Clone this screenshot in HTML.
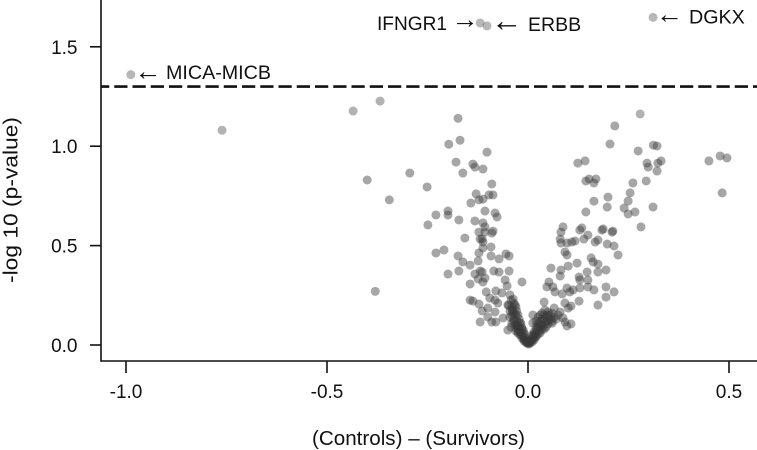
<!DOCTYPE html>
<html lang="en">
<head>
<meta charset="utf-8">
<title>Volcano plot</title>
<style>
html,body{margin:0;padding:0;background:#fff;width:757px;height:450px;overflow:hidden}
svg{display:block;font-family:"Liberation Sans",Arial,sans-serif;fill:#111}
text{font-size:19px}
</style>
</head>
<body>
<svg id="chart" width="757" height="450" viewBox="0 0 757 450" xmlns="http://www.w3.org/2000/svg">
  <g id="points"></g>
  <g id="axes"></g>
  <g id="annotations">
    <text x="134.5" y="80" style="font-size:27px">←</text>
    <text x="166" y="79" style="font-size:19.7px">MICA-MICB</text>
    <text x="377" y="30" style="font-size:19.5px" textLength="70" lengthAdjust="spacingAndGlyphs">IFNGR1</text>
    <text x="451.5" y="28" style="font-size:27px">→</text>
    <text x="491" y="31" style="font-size:31.5px">←</text>
    <text x="528" y="31" style="font-size:19.5px">ERBB</text>
    <text x="656" y="23" style="font-size:27px">←</text>
    <text x="689" y="23.5" style="font-size:19.7px">DGKX</text>
  </g>
  <text x="312" y="445" style="font-size:20px" textLength="213" lengthAdjust="spacingAndGlyphs">(Controls) – (Survivors)</text>
  <text transform="translate(17.5,283) rotate(-90)" style="font-size:20px" textLength="166" lengthAdjust="spacingAndGlyphs">-log 10 (p-value)</text>
</svg>
<script>
const xTicks = [-1.0, -0.5, 0.0, 0.5];
const xTickLabels = ["-1.0", "-0.5", "0.0", "0.5"];
const yTicks = [0.0, 0.5, 1.0, 1.5];
const yTickLabels = ["0.0", "0.5", "1.0", "1.5"];
const threshold = 1.3;

const labelledX = [-0.988, -0.119, -0.102, 0.311];
const labelledY = [1.36, 1.62, 1.605, 1.648];

const faintX = [-0.761, -0.435, -0.368, 0.279];
const faintY = [1.08, 1.177, 1.227, 1.162];

const geneX = [
  -0.4,-0.38,-0.345,0.45,0.478,0.495,0.483,
  -0.174,-0.169,-0.197,-0.102,-0.179,-0.137,-0.132,-0.112,-0.162,-0.294,-0.251,-0.09,-0.129,-0.087,-0.097,-0.112,-0.122,-0.142,-0.107,-0.082,-0.077,-0.199,-0.199,-0.229,-0.172,-0.132,-0.112,-0.249,-0.107,-0.122,-0.107,-0.087,-0.09,-0.157,-0.114,
  -0.119,-0.112,-0.112,-0.092,-0.229,-0.209,-0.122,-0.174,-0.162,-0.144,-0.124,-0.092,-0.072,-0.055,-0.047,-0.199,-0.172,-0.132,-0.119,-0.114,-0.124,-0.107,-0.112,-0.085,-0.072,-0.047,-0.057,-0.144,-0.015,-0.052,-0.104,-0.08,-0.065,-0.095,-0.144,-0.137,-0.122,-0.082,-0.075,-0.045,-0.037,-0.05,-0.032,-0.1,-0.114,-0.082,-0.1,-0.119,-0.09,-0.08,-0.062,-0.05,
  -0.04,-0.035,-0.03,-0.035,-0.028,-0.03,-0.025,-0.022,-0.02,-0.018,-0.015,-0.012,-0.01,-0.008,-0.005,-0.003,0,-0.045,-0.04,-0.042,-0.02,-0.015,-0.01,-0.025,-0.03,
  -0.042,-0.048,-0.035,-0.04,-0.03,-0.045,-0.038,-0.028,-0.04,-0.025,-0.036,-0.022,-0.032,-0.018,-0.025,-0.03,-0.016,-0.024,-0.012,-0.02,-0.01,-0.015,-0.006,-0.01,-0.004,
  0.082,0.08,0.082,0.097,0.117,0.109,0.139,0.149,0.129,0.167,0.174,0.184,0.209,0.197,0.214,0.224,0.092,0.097,0.122,0.1,0.057,0.157,0.162,0.174,0.174,0.194,0.147,0.08,0.082,0.127,0.149,0.129,0.052,0.047,0.062,0.067,0.085,0.097,0.104,0.112,0.129,0.149,0.164,0.194,0.214,0.194,0.174,0.127,0.092,0.04,0.107,0.1,0.065,0.08,0.087,0.092,0.097,0.107,0.012,0.012,0.042,0.05,
  0.02,0.025,0.03,0.035,0.03,0.035,0.04,0.045,0.05,0.055,0.06,0.02,0.025,0.03,0.03,0.02,0.015,0.015,0.01,0.008,0.005,0.025,0.04,0.045,0.02,0.003,-0.002,0.01,
  0.06,0.05,0.065,0.04,0.055,0.045,0.06,0.035,0.05,0.03,0.04,0.025,0.035,0.02,0.03,0.015,0.025,0.012,0.02,0.008,0.015,0.005,0.01,0.002,0.07,0.075,
  0.321,0.312,0.204,0.216,0.274,0.296,0.299,0.331,0.323,0.321,0.294,0.261,0.254,0.249,0.239,0.249,0.266,0.311,0.281,0.124,0.142,0.144,0.152,0.169,0.164,0.164,0.199,0.197,0.144,0.087,0.134,0.187,0.211
];
const geneY = [
  0.83,0.27,0.73,0.926,0.951,0.941,0.765,
  1.14,1.03,1.01,0.97,0.92,0.91,0.895,0.885,0.865,0.865,0.795,0.81,0.76,0.755,0.755,0.734,0.73,0.714,0.674,0.664,0.644,0.674,0.654,0.654,0.629,0.624,0.614,0.604,0.594,0.568,0.568,0.573,0.563,0.538,0.533,
  0.533,0.518,0.488,0.493,0.463,0.478,0.463,0.448,0.418,0.402,0.423,0.448,0.433,0.458,0.448,0.357,0.372,0.357,0.372,0.367,0.332,0.337,0.317,0.372,0.367,0.372,0.327,0.307,0.317,0.297,0.267,0.272,0.262,0.236,0.226,0.221,0.206,0.226,0.211,0.252,0.231,0.201,0.201,0.186,0.171,0.166,0.141,0.116,0.116,0.116,0.136,0.075,
  0.18,0.16,0.15,0.13,0.12,0.10,0.09,0.085,0.07,0.06,0.05,0.04,0.03,0.025,0.015,0.01,0.01,0.14,0.11,0.09,0.11,0.08,0.06,0.06,0.07,
  0.225,0.2,0.21,0.19,0.19,0.17,0.17,0.17,0.15,0.15,0.12,0.13,0.1,0.11,0.1,0.085,0.09,0.07,0.075,0.05,0.055,0.035,0.035,0.02,0.02,
  0.568,0.533,0.513,0.513,0.523,0.518,0.533,0.553,0.578,0.518,0.528,0.578,0.568,0.508,0.498,0.453,0.468,0.453,0.412,0.397,0.387,0.438,0.418,0.407,0.367,0.377,0.367,0.347,0.377,0.342,0.327,0.327,0.317,0.292,0.292,0.267,0.257,0.287,0.267,0.277,0.287,0.292,0.277,0.292,0.267,0.241,0.201,0.221,0.211,0.216,0.196,0.186,0.186,0.166,0.136,0.116,0.096,0.106,0.151,0.111,0.176,0.166,
  0.12,0.14,0.15,0.16,0.12,0.10,0.13,0.14,0.12,0.13,0.11,0.09,0.08,0.09,0.06,0.06,0.05,0.035,0.03,0.02,0.012,0.11,0.08,0.09,0.04,0.008,0.02,0.05,
  0.16,0.15,0.14,0.15,0.15,0.12,0.12,0.13,0.105,0.105,0.1,0.095,0.08,0.075,0.07,0.065,0.055,0.045,0.045,0.03,0.025,0.025,0.015,0.005,0.13,0.15,
  1.001,1.005,1.011,1.102,0.976,0.915,0.895,0.926,0.915,0.875,0.825,0.815,0.765,0.724,0.689,0.659,0.669,0.694,0.594,0.915,0.926,0.825,0.835,0.835,0.815,0.724,0.744,0.694,0.669,0.594,0.589,0.584,0.573
];

const NS = "http://www.w3.org/2000/svg";
const xScale = v => 528 + v * 402;
const yScale = v => 345 - v * 198.8;
const AXIS_LEFT = 101, AXIS_BOTTOM = 361, RIGHT = 757;

const pointsGroup = document.getElementById("points");
const axesGroup = document.getElementById("axes");

function make(tag, attrs, parent) {
  const el = document.createElementNS(NS, tag);
  for (const k in attrs) el.setAttribute(k, attrs[k]);
  parent.appendChild(el);
  return el;
}

function drawSeries(xs, ys, fill, opacity) {
  xs.forEach((x, i) => {
    const c = make("circle", { cx: xScale(x), cy: yScale(ys[i]), r: 4.5, fill: fill, "fill-opacity": opacity }, pointsGroup);
    
    
  });
}
drawSeries(geneX, geneY, "#3a3a3a", 0.45);
drawSeries(faintX, faintY, "#555555", 0.45);
drawSeries(labelledX, labelledY, "#666666", 0.47);

const lineStyle = { stroke: "#111", "stroke-width": 1.6 };

const yAxisLine = make("line", Object.assign({ x1: AXIS_LEFT, x2: AXIS_LEFT, y1: 0, y2: AXIS_BOTTOM + 0.8 }, lineStyle), axesGroup);



const xAxisLine = make("line", Object.assign({ x1: AXIS_LEFT, x2: RIGHT, y1: AXIS_BOTTOM, y2: AXIS_BOTTOM }, lineStyle), axesGroup);



xTicks.forEach((v, i) => {
  const t = make("line", Object.assign({ x1: xScale(v), x2: xScale(v), y1: AXIS_BOTTOM, y2: AXIS_BOTTOM + 12 }, lineStyle), axesGroup);
  
  
  const l = make("text", { x: xScale(v), y: 398, "text-anchor": "middle" }, axesGroup);
  l.textContent = xTickLabels[i];
  
  
});

yTicks.forEach((v, i) => {
  const t = make("line", Object.assign({ x1: AXIS_LEFT - 11, x2: AXIS_LEFT, y1: yScale(v), y2: yScale(v) }, lineStyle), axesGroup);
  
  
  const l = make("text", { x: 77.5, y: yScale(v) + 7, "text-anchor": "end" }, axesGroup);
  l.textContent = yTickLabels[i];
  
  
});

const thresholdLine = make("line", { x1: AXIS_LEFT, x2: RIGHT, y1: yScale(threshold), y2: yScale(threshold), stroke: "#111", "stroke-width": 2.6, "stroke-dasharray": "13.25 5", "stroke-dashoffset": 5 }, axesGroup);


</script>
</body>
</html>
